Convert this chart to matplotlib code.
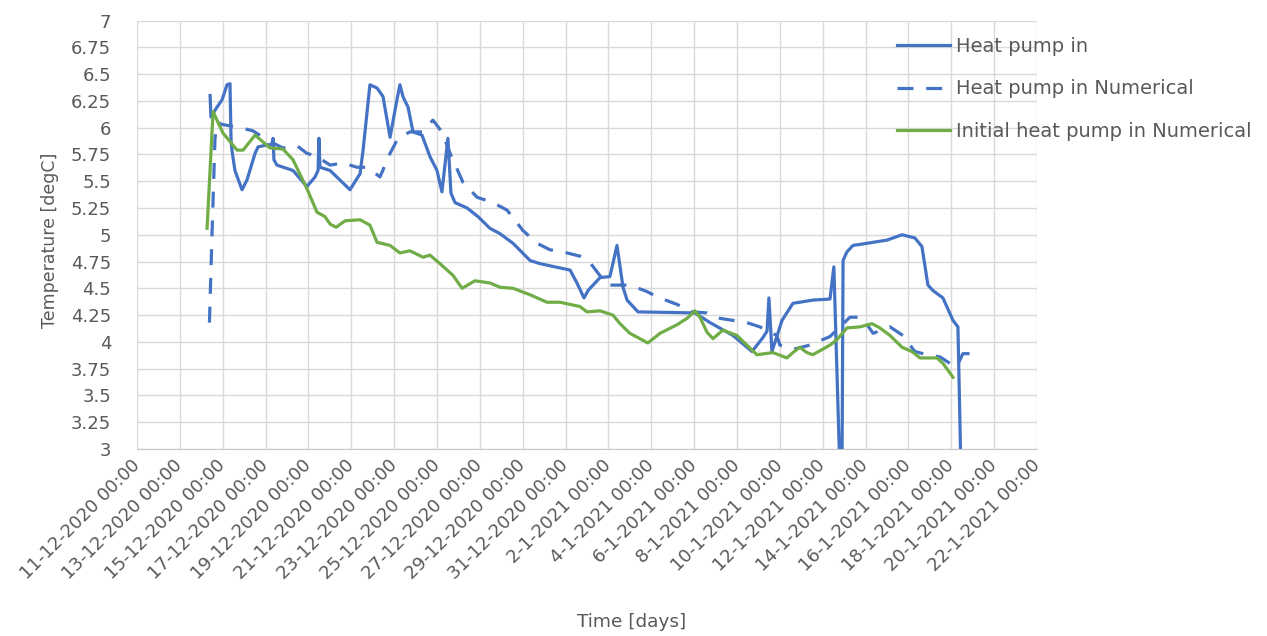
import matplotlib
matplotlib.use("Agg")
import matplotlib.pyplot as plt
import matplotlib.dates as mdates
from matplotlib.ticker import FuncFormatter, MultipleLocator, FixedLocator
import numpy as np
import pandas as pd

START = pd.Timestamp("2020-12-11")

# Measured inlet temperature (time in days since 11-12-2020, degC)
hp_in_days = [3.41, 3.45, 3.73, 3.97, 4.20, 4.34, 4.39, 4.43, 4.57, 4.90, 5.13, 5.51, 5.65,
              6.11, 6.30, 6.35, 6.39, 6.53, 7.28, 7.93, 8.31, 8.45, 8.49, 8.54, 9.01, 9.94,
              10.41, 10.55, 10.87, 11.20, 11.48, 11.81, 12.13, 12.27, 12.41, 12.65, 12.88,
              13.30, 13.67, 14.00, 14.23, 14.51, 14.65, 14.84, 15.40, 15.91, 16.47, 16.94,
              17.55, 18.34, 18.81, 20.21, 20.53, 20.86, 21.05, 21.61, 22.07, 22.40, 22.68,
              22.87, 23.38, 26.04, 26.74, 27.81, 28.70, 29.21, 29.40, 29.49, 29.63, 30.10,
              30.61, 31.54, 32.34, 32.52, 32.80, 32.90, 32.95, 33.13, 33.41, 34.06, 35.00,
              35.70, 36.30, 36.63, 36.91, 37.14, 37.61, 38.08, 38.31, 38.45]
hp_in_temp = [6.30, 6.10, 6.19, 6.26, 6.40, 6.41, 5.88, 5.79, 5.60, 5.42, 5.51, 5.76, 5.82,
              5.84, 5.84, 5.90, 5.70, 5.65, 5.60, 5.45, 5.54, 5.60, 5.90, 5.63, 5.60, 5.42,
              5.57, 5.79, 6.40, 6.37, 6.29, 5.91, 6.26, 6.40, 6.29, 6.19, 5.96,
              5.93, 5.73, 5.60, 5.40, 5.90, 5.39, 5.30, 5.25, 5.17, 5.06, 5.01,
              4.92, 4.76, 4.73, 4.67, 4.55, 4.41, 4.48, 4.60, 4.61, 4.90, 4.51,
              4.39, 4.28, 4.27, 4.18, 4.06, 3.91, 4.04, 4.10, 4.41, 3.91, 4.20,
              4.36, 4.39, 4.40, 4.70, 2.80, 2.80, 4.76, 4.84, 4.90, 4.92, 4.95,
              5.00, 4.97, 4.89, 4.53, 4.48, 4.41, 4.20, 4.14, 2.80]

# Simulated inlet temperature
hp_num_days = [3.38, 3.50, 3.64, 3.73, 3.97, 4.81, 5.41, 6.11, 6.81, 7.47, 7.93, 8.40, 9.01,
               9.61, 10.27, 10.73, 11.34, 11.81, 12.18, 12.74, 13.30, 13.81, 14.23, 14.61,
               15.21, 15.87, 16.61, 17.27, 18.01, 18.67, 19.27, 20.07, 20.67, 21.14, 21.75,
               22.07, 23.01, 23.80, 24.27, 25.20, 25.94, 26.60, 27.20, 28.46, 29.07, 29.86,
               30.00, 30.61, 31.40, 32.34, 33.27, 33.83, 34.35, 35.14, 35.74, 36.30, 36.86,
               37.47, 38.08, 38.26, 38.54, 38.96]
hp_num_temp = [4.18, 5.00, 5.90, 6.05, 6.03, 6.00, 5.97, 5.88, 5.81, 5.83, 5.76, 5.73, 5.65,
               5.67, 5.63, 5.63, 5.54, 5.76, 5.90, 5.96, 5.96, 6.07, 5.96, 5.76,
               5.49, 5.35, 5.30, 5.23, 5.04, 4.92, 4.86, 4.83, 4.80, 4.74, 4.58,
               4.53, 4.53, 4.47, 4.42, 4.35, 4.28, 4.27, 4.22, 4.18, 4.14, 4.06,
               3.97, 3.93, 3.97, 4.05, 4.23, 4.23, 4.08, 4.14, 4.06, 3.91, 3.88,
               3.86, 3.78, 3.77, 3.89, 3.89]

# Initial simulation of the inlet temperature
init_num_days = [3.27, 3.55, 4.01, 4.67, 4.95, 5.51, 6.21, 6.81, 7.28, 7.93, 8.40, 8.77, 9.01,
                 9.29, 9.71, 10.41, 10.87, 11.20, 11.81, 12.27, 12.74, 13.35, 13.67, 14.14,
                 14.75, 15.17, 15.77, 16.47, 16.94, 17.55, 18.34, 19.13, 19.74, 20.67, 21.00,
                 21.61, 22.21, 22.54, 23.00, 23.84, 24.41, 25.20, 25.67, 26.04, 26.27, 26.60,
                 26.88, 27.34, 28.00, 28.46, 28.93, 29.68, 30.33, 30.61, 30.93, 31.26, 31.54,
                 32.34, 32.66, 33.13, 33.74, 34.30, 34.67, 35.14, 35.70, 36.16, 36.54, 37.33,
                 37.61, 38.08]
init_num_temp = [5.06, 6.15, 5.95, 5.79, 5.79, 5.93, 5.81, 5.80, 5.70, 5.43, 5.21, 5.17, 5.10,
                 5.07, 5.13, 5.14, 5.09, 4.93, 4.90, 4.83, 4.85, 4.79, 4.81, 4.73,
                 4.62, 4.50, 4.57, 4.55, 4.51, 4.50, 4.44, 4.37, 4.37, 4.33, 4.28,
                 4.29, 4.25, 4.17, 4.08, 3.99, 4.08, 4.16, 4.22, 4.29, 4.23, 4.09,
                 4.03, 4.11, 4.06, 3.97, 3.88, 3.90, 3.85, 3.90, 3.95, 3.90, 3.88,
                 3.97, 4.02, 4.13, 4.14, 4.17, 4.13, 4.06, 3.95, 3.91, 3.85, 3.85,
                 3.80, 3.67]

series_labels = ["Heat pump in", "Heat pump in Numerical", "Initial heat pump in Numerical"]
tick_days = list(range(0, 43, 2))
y_range = (3, 7)


def to_dates(days):
    return START + pd.to_timedelta(np.asarray(days, dtype=float), unit="D")


plt.rcParams["font.family"] = ["DejaVu Sans"]
text_grey = "#595959"
blue = "#4472C4"
green = "#70AD47"
LW = 2.3

W, H = 1267, 636
fig = plt.figure(figsize=(W / 100, H / 100), dpi=100)
ax = fig.add_axes([137 / W, 1 - 449 / H, 900 / W, 428.5 / H])

ax.plot(to_dates(hp_in_days), hp_in_temp, color=blue, lw=LW, label=series_labels[0],
        solid_joinstyle="round")
ax.plot(to_dates(hp_num_days), hp_num_temp, color=blue, lw=LW, ls=(0, (5, 4)),
        label=series_labels[1])
ax.plot(to_dates(init_num_days), init_num_temp, color=green, lw=LW, label=series_labels[2],
        solid_joinstyle="round")

ticks = to_dates(tick_days)
ax.set_xlim(ticks[0], ticks[-1])
ax.set_ylim(*y_range)

ax.xaxis.set_major_locator(FixedLocator(mdates.date2num(ticks)))
ax.xaxis.set_major_formatter(FuncFormatter(
    lambda v, pos: (lambda d: f"{d.day}-{d.month}-{d.year} 00:00")(mdates.num2date(v))))
ax.yaxis.set_major_locator(MultipleLocator(0.25))
ax.yaxis.set_major_formatter(FuncFormatter(lambda v, pos: f"{v:g}"))

ax.grid(True, color="#d9d9d9", lw=1.0)
ax.set_axisbelow(True)
for side in ["top", "right", "left"]:
    ax.spines[side].set_visible(False)
ax.spines["bottom"].set_color("#c8c8c8")
ax.tick_params(length=0, colors=text_grey, labelsize=13)
ax.tick_params(axis="y", pad=18.5)
ax.tick_params(axis="x", pad=10)
plt.setp(ax.get_xticklabels(), rotation=45, ha="right", va="center", rotation_mode="anchor")

fig.text(50 / W, 1 - 240 / H, "Temperature [degC]", rotation=90, color=text_grey,
         fontsize=12.5, ha="center", va="center")
fig.text(632 / W, 1 - 622 / H, "Time [days]", color=text_grey, fontsize=13.3,
         ha="center", va="center")

leg = fig.legend(loc="upper left", bbox_to_anchor=(897 / W, 1 - 37 / H),
                 frameon=False, fontsize=14, handlelength=2.75, labelspacing=1.2,
                 handletextpad=0.3, borderpad=0, borderaxespad=0)
for t in leg.get_texts():
    t.set_color(text_grey)

fig.savefig("out.png", dpi=100)
